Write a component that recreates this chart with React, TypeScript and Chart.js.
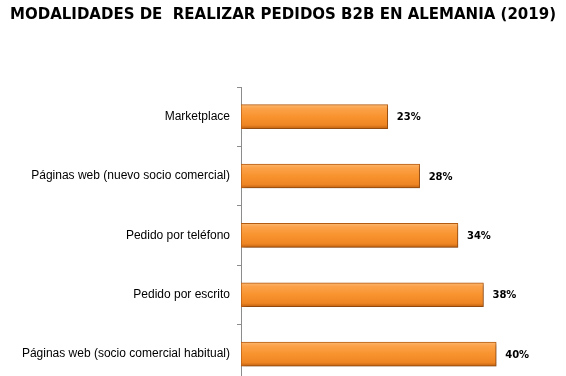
import React, { useEffect, useRef } from "react";
import { Chart, registerables } from "chart.js";

Chart.register(...registerables);

const TITLE = "MODALIDADES DE  REALIZAR PEDIDOS B2B EN ALEMANIA (2019)";
const categories = [
  "Marketplace",
  "Páginas web (nuevo socio comercial)",
  "Pedido por teléfono",
  "Pedido por escrito",
  "Páginas web (socio comercial habitual)",
];
const values = [23, 28, 34, 38, 40];
const valueLabels = ["23%", "28%", "34%", "38%", "40%"];

const valueLabelPlugin = {
  id: "valueLabels",
  afterDatasetsDraw(chart: any) {
    const ctx = chart.ctx;
    const meta = chart.getDatasetMeta(0);
    ctx.save();
    ctx.font = "bold 10px 'DejaVu Sans', Verdana, sans-serif";
    ctx.fillStyle = "#000";
    ctx.textAlign = "left";
    ctx.textBaseline = "middle";
    meta.data.forEach((el: any, i: number) => {
      ctx.fillText(valueLabels[i], el.x + 9, el.y + 1);
    });
    ctx.restore();
  },
};

const shadowPlugin = {
  id: "barShadow",
  beforeDatasetDraw(chart: any) {
    const ctx = chart.ctx;
    ctx.save();
    ctx.shadowColor = "rgba(0,0,0,0.28)";
    ctx.shadowOffsetX = 2;
    ctx.shadowOffsetY = 2;
    ctx.shadowBlur = 3;
  },
  afterDatasetDraw(chart: any) {
    chart.ctx.restore();
  },
};

export default function App() {
  const ref = useRef<HTMLCanvasElement | null>(null);

  useEffect(() => {
    document.body.style.margin = "0";
    document.body.style.overflow = "hidden";
    const canvas = ref.current!;
    const chart = new Chart(canvas, {
      type: "bar",
      data: {
        labels: categories,
        datasets: [
          {
            data: values,
            backgroundColor: (c: any) => {
              const ch = c.chart;
              const y = ch.scales?.y;
              if (!y || c.dataIndex === undefined) return "#F7932F";
              const yc = y.getPixelForValue(c.dataIndex);
              if (!Number.isFinite(yc)) return "#F7932F";
              const g = ch.ctx.createLinearGradient(0, yc - 12, 0, yc + 12);
              g.addColorStop(0, "#FBB870");
              g.addColorStop(0.15, "#FCA24A");
              g.addColorStop(0.5, "#F8932E");
              g.addColorStop(0.85, "#EE8524");
              g.addColorStop(1, "#C0600F");
              return g;
            },
            borderColor: "#B65C12",
            borderWidth: 1,
            borderSkipped: false,
            barThickness: 24,
          },
        ],
      },
      options: {
        indexAxis: "y",
        animation: false,
        responsive: false,
        layout: { padding: { left: 10, right: 6, top: 0, bottom: 0 } },
        plugins: {
          legend: { display: false },
          tooltip: { enabled: false },
          title: {
            display: true,
            text: TITLE,
            align: "start",
            color: "#000",
            font: { family: "'DejaVu Sans', Verdana, sans-serif", size: 15, weight: "bold" },
            padding: { top: 6, bottom: 63 },
          },
        },
        scales: {
          x: {
            display: false,
            min: 0,
            max: 50,
          },
          y: {
            afterFit: (s: any) => {
              s.width = 231;
            },
            border: { display: true, color: "#8C8C8C", width: 1 },
            grid: {
              display: true,
              drawOnChartArea: false,
              drawTicks: true,
              tickLength: 4,
              color: "#8C8C8C",
              offset: true,
            },
            ticks: {
              color: "#000",
              padding: 7,
              font: { family: "'Liberation Sans', Arial, sans-serif", size: 12 },
            },
          },
        },
      },
      plugins: [shadowPlugin, valueLabelPlugin],
    } as any);
    return () => chart.destroy();
  }, []);

  return (
    <div style={{ position: "fixed", left: 0, top: 0, width: 566, height: 376, overflow: "hidden", background: "#fff" }}>
      <canvas ref={ref} width={566} height={398} style={{ display: "block" }} />
    </div>
  );
}
